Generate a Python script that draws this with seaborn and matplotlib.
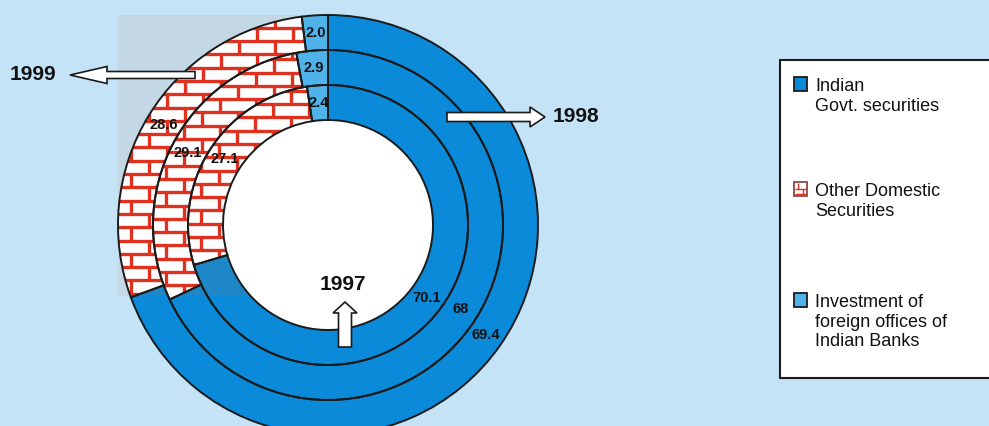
import numpy as np
import matplotlib
matplotlib.use("Agg")
import matplotlib.pyplot as plt
import seaborn as sns
from matplotlib.patches import Rectangle, Wedge, FancyArrow, Circle
from matplotlib.collections import LineCollection

# ---- data -------------------------------------------------------------
years = ["1997", "1998", "1999"]
categories = [
    "Indian\nGovt. securities",
    "Other Domestic\nSecurities",
    "Investment of\nforeign offices of\nIndian Banks",
]
govt_securities = [70.1, 68, 69.4]
other_domestic = [27.1, 29.1, 28.6]
foreign_offices = [2.4, 2.9, 2.0]

# ---- style ------------------------------------------------------------
sns.set_style("white")
plt.rcParams["font.family"] = ["Liberation Sans", "DejaVu Sans"]

BG = "#c5e3f6"
PANEL = "#c3d7e5"
PANEL_BLUE = "#1e87c8"
BRICK = "#df3120"
EDGE = "#1b1b1b"
palette = sns.color_palette(["#0a8ad9", "#ffffff", "#4fb3ea"])

W, H = 989, 426
fig = plt.figure(figsize=(W / 100, H / 100), dpi=100, facecolor=BG)
ax = fig.add_axes([0, 0, 1, 1])
ax.set_facecolor(BG)

cx, cy = 328, H - 225
ring_w = 35
radii = [140, 175, 210]
panel_xy, panel_w, panel_h = (118, H - 296), 182, 281


def brick_lines(x0, x1, y0, y1, bw=36.0, bh=13.3):
    segs = []
    for i, y in enumerate(np.arange(y0, y1 + bh, bh)):
        segs.append([(x0, y), (x1, y)])
        off = 0 if i % 2 == 0 else bw / 2
        for x in np.arange(x0 + off, x1, bw):
            segs.append([(x, y), (x, y + bh)])
    return segs


# grey panel behind the upper-left of the rings
ax.add_patch(Rectangle(panel_xy, panel_w, panel_h, facecolor=PANEL,
                       edgecolor="none", zorder=0))
# white centre of the rings
ax.add_patch(Circle((cx, cy), radii[0] - ring_w, facecolor="white",
                    edgecolor="none", zorder=1))

# ---- rings ------------------------------------------------------------
for yi, year in enumerate(years):
    vals = [govt_securities[yi], other_domestic[yi], foreign_offices[yi]]
    R = radii[yi]
    wedges, _ = ax.pie(vals, radius=R, center=(cx, cy), startangle=90,
                       counterclock=False, colors=palette,
                       wedgeprops=dict(width=ring_w, linewidth=0))
    # the panel shows through the government-securities slice as a duller blue
    tint = Rectangle(panel_xy, panel_w, panel_h, facecolor=PANEL_BLUE,
                     edgecolor="none", zorder=2)
    ax.add_patch(tint)
    tint.set_clip_path(wedges[0])
    # brick texture on the "other domestic" slice
    lc = LineCollection(brick_lines(cx - R - 5, cx + R + 5, cy - R - 5, cy + R + 5),
                        colors=BRICK, linewidths=2.4, zorder=3)
    lc.set_clip_path(wedges[1])
    ax.add_collection(lc)
    # outlines on top of the texture
    for w in wedges:
        ax.add_patch(Wedge(w.center, w.r, w.theta1, w.theta2, width=w.width,
                           fill=False, edgecolor=EDGE, linewidth=1.4, zorder=4))
    # value labels at the middle of each slice
    for w, v in zip(wedges, vals):
        ang = np.deg2rad((w.theta1 + w.theta2) / 2)
        rm = R - ring_w / 2
        ax.text(cx + rm * np.cos(ang), cy + rm * np.sin(ang), str(v),
                ha="center", va="center", fontsize=10.5, fontweight="bold",
                color="#111111", zorder=6)

# ---- year arrows ------------------------------------------------------
arrow_kw = dict(length_includes_head=True, facecolor="white",
                edgecolor=EDGE, linewidth=1.2, zorder=7)
ax.add_patch(FancyArrow(195, H - 75, -125, 0, width=7, head_width=17,
                        head_length=37, **arrow_kw))
ax.add_patch(FancyArrow(447, H - 117, 98, 0, width=9, head_width=20,
                        head_length=15, **arrow_kw))
ax.add_patch(FancyArrow(345, H - 347, 0, 45, width=13, head_width=24,
                        head_length=11, **arrow_kw))
year_kw = dict(fontsize=15, fontweight="bold", color="#111111", zorder=8)
ax.text(10, H - 75, years[2], ha="left", va="center", **year_kw)
ax.text(553, H - 117, years[1], ha="left", va="center", **year_kw)
ax.text(343, H - 285, years[0], ha="center", va="center", **year_kw)

# ---- legend -----------------------------------------------------------
ax.add_patch(Rectangle((780, H - 378), 230, 318, facecolor="white",
                       edgecolor=EDGE, linewidth=1.5, zorder=5))
marker_tops = [77, 182, 293]
for i, (lab, top) in enumerate(zip(categories, marker_tops)):
    x0, y0, sw, sh = 794, H - top - 14, 13, 14
    ax.add_patch(Rectangle((x0, y0), sw, sh, facecolor=palette[i],
                           edgecolor=EDGE if i != 1 else "#8a4a4a",
                           linewidth=1.3, zorder=6))
    if i == 1:
        segs = [[(x0 + 1, y0 + 2), (x0 + sw - 1, y0 + 2)],
                [(x0 + 1, y0 + 7), (x0 + sw - 1, y0 + 7)],
                [(x0 + 4, y0 + 7), (x0 + 4, y0 + sh - 1)],
                [(x0 + 9, y0 + 2), (x0 + 9, y0 + 7)]]
        ax.add_collection(LineCollection(segs, colors=BRICK, linewidths=1.0,
                                         zorder=7))
    ax.text(815, H - top - 1, lab, ha="left", va="top", fontsize=13,
            color="#111111", zorder=7, linespacing=1.2)

ax.set_xlim(0, W)
ax.set_ylim(0, H)
ax.set_aspect("equal")
ax.axis("off")

fig.savefig("out.png", dpi=100, facecolor=BG)
